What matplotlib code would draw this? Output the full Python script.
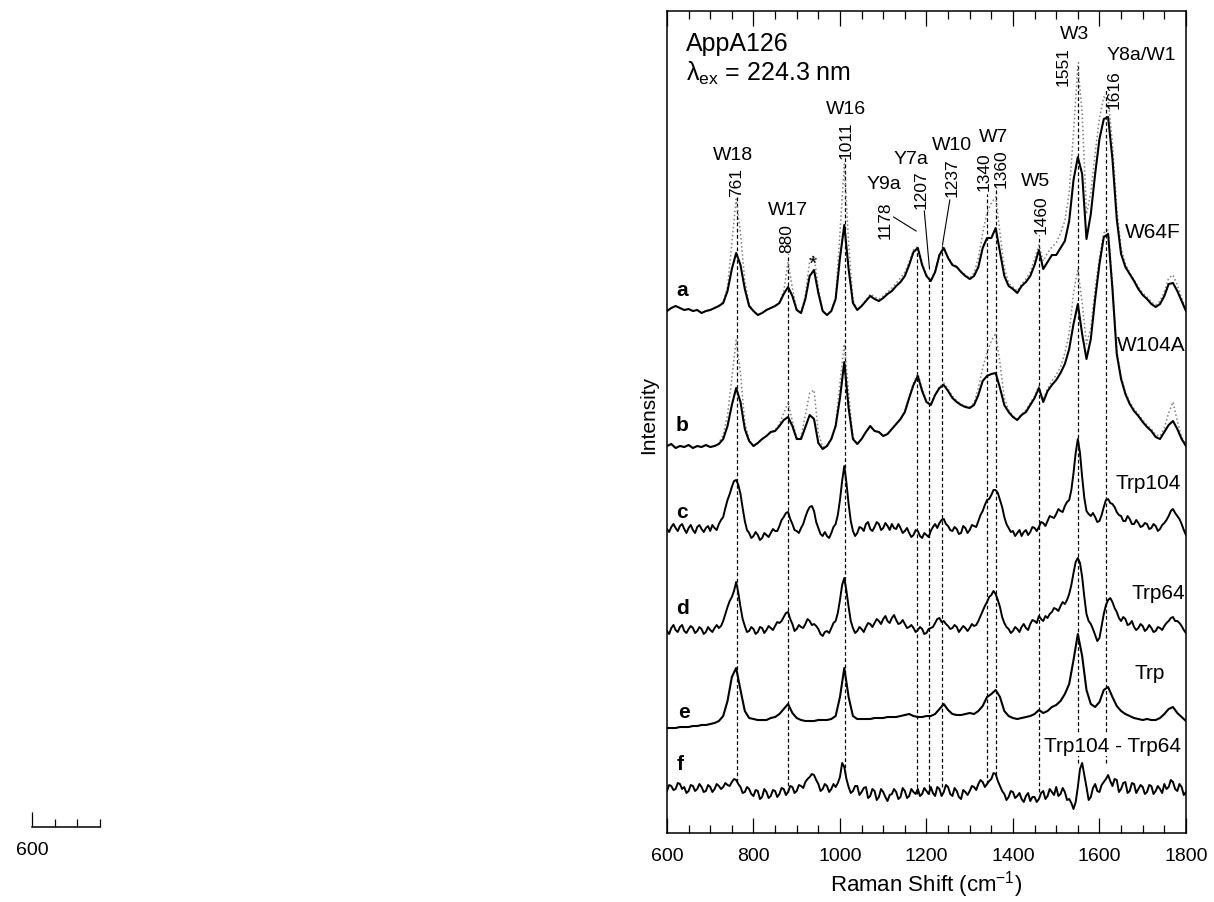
import numpy as np
import matplotlib.pyplot as plt
from matplotlib.ticker import MultipleLocator

plt.rcParams['font.family'] = ['Liberation Sans', 'DejaVu Sans']
plt.rcParams['mathtext.default'] = 'regular'

# Raman shift grid (cm^-1), one point every 10 cm^-1;
# the noisy single-site spectra also carry the in-between points
shift = np.arange(600, 1801, 10)
shift_mid = np.arange(605, 1800, 10)

# ---- spectra (arbitrary intensity units, already stacked) ----
w64f = [
    522, 525, 527, 525, 523, 524, 522, 523, 520, 522,
    523, 525, 527, 530, 542, 564, 580, 568, 544, 527,
    522, 518, 520, 523, 525, 527, 530, 539, 546, 537,
    523, 520, 534, 557, 563, 540, 522, 518, 522, 534,
    575, 608, 564, 530, 523, 527, 532, 537, 534, 532,
    535, 539, 542, 547, 551, 557, 568, 581, 585, 568,
    557, 552, 561, 578, 585, 575, 568, 566, 561, 557,
    554, 557, 566, 585, 595, 595, 605, 581, 557, 547,
    544, 540, 547, 551, 557, 568, 583, 564, 571, 578,
    578, 585, 592, 612, 653, 676, 659, 594, 619, 659,
    694, 714, 716, 674, 614, 579, 566, 559, 552, 544,
    538, 534, 529, 526, 529, 537, 549, 550, 542, 532,
    522,
]
w64f_wt = [
    522, 525, 527, 525, 523, 524, 522, 523, 520, 522,
    523, 525, 527, 531, 546, 590, 634, 600, 552, 528,
    522, 518, 520, 523, 525, 527, 531, 542, 571, 545,
    523, 520, 538, 572, 578, 545, 522, 518, 522, 536,
    600, 669, 590, 533, 523, 527, 533, 539, 536, 534,
    537, 541, 545, 550, 555, 561, 571, 583, 587, 570,
    558, 553, 562, 579, 586, 576, 569, 567, 562, 558,
    555, 560, 575, 600, 620, 630, 636, 600, 565, 550,
    546, 542, 549, 554, 561, 574, 588, 572, 580, 586,
    590, 600, 612, 640, 700, 767, 720, 619, 640, 680,
    715, 736, 734, 690, 625, 585, 569, 560, 553, 546,
    540, 536, 531, 528, 532, 541, 555, 558, 548, 535,
    524,
]
w104a = [
    387, 389, 385, 387, 386, 388, 385, 387, 386, 388,
    386, 387, 389, 394, 407, 428, 445, 431, 404, 392,
    387, 390, 394, 397, 401, 402, 407, 413, 416, 407,
    394, 394, 406, 418, 414, 390, 384, 387, 394, 407,
    435, 471, 425, 394, 389, 394, 401, 407, 402, 401,
    397, 399, 404, 409, 414, 421, 435, 448, 457, 442,
    431, 428, 438, 445, 448, 442, 435, 431, 428, 426,
    425, 428, 438, 452, 457, 459, 460, 445, 428, 421,
    416, 413, 418, 421, 428, 435, 445, 431, 442, 448,
    453, 460, 469, 484, 509, 529, 499, 474, 494, 534,
    569, 596, 599, 544, 479, 454, 439, 429, 422, 417,
    411, 406, 402, 396, 394, 401, 408, 412, 404, 394,
    387,
]
w104a_wt = [
    387, 389, 385, 387, 386, 388, 385, 387, 386, 388,
    386, 387, 390, 398, 418, 455, 493, 460, 410, 393,
    387, 390, 394, 397, 401, 403, 409, 420, 430, 412,
    395, 396, 418, 440, 443, 400, 386, 387, 394, 409,
    450, 489, 440, 396, 389, 394, 401, 407, 402, 401,
    397, 399, 404, 409, 414, 422, 437, 450, 459, 444,
    432, 429, 439, 446, 450, 444, 437, 432, 429, 427,
    426, 430, 445, 465, 480, 492, 500, 470, 435, 423,
    417, 414, 419, 423, 430, 437, 447, 433, 444, 452,
    458, 466, 480, 500, 540, 564, 530, 489, 505, 545,
    575, 600, 603, 550, 483, 456, 441, 431, 424, 419,
    413, 408, 404, 398, 397, 405, 420, 431, 412, 396,
    388,
]
trp104 = [
    304, 306, 305, 307, 304, 305, 303, 306, 304, 305,
    302, 305, 309, 316, 333, 346, 353, 339, 312, 300,
    297, 298, 295, 298, 300, 302, 307, 316, 321, 309,
    302, 305, 316, 326, 322, 305, 297, 297, 300, 309,
    333, 367, 329, 302, 300, 305, 309, 304, 306, 309,
    305, 307, 309, 304, 305, 302, 300, 298, 302, 295,
    298, 302, 309, 310, 314, 307, 302, 304, 300, 305,
    303, 307, 312, 322, 333, 338, 343, 333, 316, 305,
    302, 300, 297, 303, 301, 305, 306, 310, 312, 316,
    319, 322, 327, 333, 360, 394, 356, 322, 317, 316,
    312, 326, 334, 329, 321, 317, 312, 314, 309, 310,
    307, 309, 305, 307, 304, 310, 317, 324, 317, 309,
    298,
]
trp104_mid = [
    301, 309, 302, 309, 300, 308, 300, 308, 301, 307,
    308, 303, 313, 325, 339, 352, 348, 325, 303, 295,
    301, 293, 300, 296, 304, 302, 313, 320, 314, 303,
    300, 309, 322, 327, 311, 299, 301, 295, 306, 318,
    352, 350, 312, 297, 306, 302, 311, 302, 311, 303,
    310, 303, 305, 309, 300, 305, 296, 303, 297, 300,
    296, 306, 305, 313, 309, 303, 306, 299, 307, 300,
    308, 306, 318, 328, 334, 343, 340, 326, 309, 301,
    297, 303, 301, 298, 306, 302, 311, 307, 317, 315,
    324, 321, 331, 343, 380, 380, 335, 319, 320, 311,
    318, 333, 330, 326, 318, 312, 317, 309, 313, 306,
    310, 304, 309, 302, 308, 313, 322, 320, 314, 303,
]
trp64 = [
    202, 205, 203, 206, 202, 204, 205, 202, 204, 201,
    203, 205, 205, 212, 226, 236, 251, 226, 207, 202,
    204, 201, 205, 203, 205, 207, 210, 216, 221, 209,
    204, 206, 209, 212, 209, 204, 197, 202, 205, 212,
    233, 255, 226, 205, 202, 204, 206, 209, 210, 212,
    214, 212, 215, 213, 210, 209, 206, 205, 203, 204,
    200, 205, 210, 215, 212, 207, 205, 206, 204, 205,
    205, 207, 212, 222, 231, 238, 239, 226, 210, 204,
    202, 204, 206, 205, 209, 212, 217, 212, 215, 221,
    224, 227, 229, 239, 260, 275, 256, 219, 209, 198,
    195, 219, 233, 231, 221, 212, 214, 209, 206, 205,
    207, 204, 205, 202, 205, 207, 212, 216, 212, 207,
    200,
]
trp64_mid = [
    199, 208, 201, 208, 200, 207, 200, 206, 199, 206,
    201, 208, 207, 219, 232, 242, 240, 214, 201, 206,
    199, 206, 200, 207, 203, 211, 212, 220, 214, 202,
    208, 205, 214, 208, 207, 199, 201, 200, 210, 220,
    248, 242, 212, 200, 206, 201, 210, 206, 214, 209,
    217, 210, 218, 209, 213, 205, 208, 201, 206, 199,
    204, 206, 214, 211, 209, 204, 208, 201, 207, 202,
    209, 208, 217, 227, 236, 242, 233, 216, 206, 200,
    206, 201, 209, 203, 213, 210, 214, 217, 219, 225,
    222, 231, 233, 248, 271, 270, 236, 212, 204, 192,
    207, 228, 235, 225, 215, 216, 208, 212, 203, 209,
    202, 208, 201, 206, 203, 210, 215, 212, 210, 203,
]
trp = [
    105, 105, 105, 106, 106, 106, 107, 107, 108, 108,
    109, 110, 112, 117, 132, 156, 165, 143, 122, 115,
    114, 113, 113, 113, 115, 116, 119, 124, 129, 120,
    115, 113, 112, 112, 112, 113, 113, 113, 114, 117,
    136, 165, 136, 117, 114, 114, 114, 114, 115, 115,
    115, 116, 116, 116, 117, 118, 119, 117, 116, 116,
    117, 117, 119, 124, 129, 123, 119, 118, 118, 119,
    120, 119, 122, 127, 136, 139, 143, 136, 122, 117,
    115, 114, 115, 116, 117, 119, 123, 120, 122, 126,
    128, 132, 139, 149, 173, 199, 177, 143, 129, 126,
    131, 143, 146, 136, 127, 122, 119, 117, 115, 114,
    113, 114, 113, 113, 115, 119, 124, 126, 120, 116,
    112,
]
diff_104_64 = [
    42, 47, 44, 49, 46, 42, 47, 44, 46, 42,
    46, 44, 47, 46, 48, 51, 53, 46, 41, 44,
    37, 42, 36, 41, 37, 42, 39, 44, 41, 46,
    42, 47, 51, 56, 58, 49, 44, 47, 44, 46,
    56, 66, 46, 42, 47, 41, 46, 37, 42, 36,
    41, 32, 39, 41, 36, 42, 37, 41, 44, 39,
    42, 46, 37, 44, 41, 46, 37, 42, 34, 41,
    42, 46, 49, 51, 49, 54, 59, 47, 39, 36,
    41, 37, 34, 37, 32, 36, 34, 42, 37, 41,
    46, 39, 41, 34, 24, 46, 70, 46, 36, 49,
    41, 51, 58, 47, 53, 44, 51, 42, 49, 44,
    46, 41, 47, 42, 44, 49, 46, 51, 42, 46,
    41,
]
diff_104_64_mid = [
    48, 43, 50, 44, 40, 48, 42, 49, 41, 48,
    41, 49, 44, 50, 47, 54, 49, 40, 46, 39,
    43, 34, 44, 35, 43, 36, 45, 38, 47, 40,
    48, 45, 54, 59, 53, 42, 49, 41, 49, 50,
    70, 54, 40, 47, 38, 45, 35, 44, 33, 44,
    36, 38, 44, 34, 45, 35, 44, 39, 37, 45,
    39, 40, 46, 37, 48, 39, 45, 36, 43, 38,
    47, 43, 53, 46, 52, 60, 52, 42, 33, 42,
    35, 40, 31, 40, 36, 31, 40, 34, 44, 38,
    37, 45, 33, 30, 31, 64, 58, 33, 45, 42,
    48, 54, 52, 54, 41, 50, 40, 50, 40, 48,
    39, 48, 39, 47, 40, 44, 53, 44, 49, 38,
]

# ---- band assignments ----
band_pos = [761, 880, 1011, 1178, 1207, 1237, 1340, 1360, 1460, 1551, 1616]
band_top = [638, 579, 676, 583, 556, 588, 639, 644, 598, 771, 744]
band_bottom = [51, 41, 59, 39, 39, 46, 49, 58, 41, 70, 70]


def merge(on_grid, mid):
    """Interleave the 10 cm^-1 samples with the half-step samples."""
    x = np.empty(len(shift) + len(shift_mid))
    y = np.empty_like(x)
    x[0::2], x[1::2] = shift, shift_mid
    y[0::2], y[1::2] = on_grid, mid
    return x, y


fig = plt.figure(figsize=(12.14, 9.03), dpi=100)
ax = fig.add_axes([0.5494, 0.0764, 0.4275, 0.9103])

# wild-type overlays (dotted) under the mutant spectra
for ref in (w64f_wt, w104a_wt):
    ax.plot(shift, ref, color='#808080', lw=1.1, ls=':', zorder=2)

for spec in (w64f, w104a, trp):
    ax.plot(shift, spec, color='black', lw=1.5, zorder=3)
for spec, mid in ((trp104, trp104_mid), (trp64, trp64_mid),
                  (diff_104_64, diff_104_64_mid)):
    ax.plot(*merge(spec, mid), color='black', lw=1.4, zorder=3)

ax.vlines(band_pos, band_bottom, band_top, colors='black', lw=0.9,
          linestyles=(0, (3, 2)), zorder=1)

# band numbers, rotated above the dashed guides
num_labels = [
    ('761', 762, 652), ('880', 877, 595), ('1011', 1014, 694),
    ('1178', 1104, 614), ('1207', 1187, 644), ('1237', 1259, 656),
    ('1340', 1333, 662), ('1360', 1372, 665), ('1460', 1464, 619),
    ('1551', 1515, 768), ('1616', 1634, 744),
]
for txt, x, y in num_labels:
    ax.text(x, y, txt, rotation=90, ha='center', va='center', fontsize=12.5)

# leader lines for the crowded Tyr / W10 region
leaders = [((1124, 1176), (616, 602)), ((1195, 1207), (622, 564)),
           ((1254, 1237), (633, 588))]
for xs, ys in leaders:
    ax.plot(xs, ys, color='black', lw=0.8, zorder=1)

mode_labels = [
    ('W18', 753, 679), ('W17', 880, 624), ('W16', 1014, 725),
    ('Y9a', 1101, 650), ('Y7a', 1164, 675), ('W10', 1259, 689),
    ('W7', 1354, 697), ('W5', 1452, 653), ('W3', 1543, 800),
    ('Y8a/W1', 1696, 779),
]
for txt, x, y in mode_labels:
    ax.text(x, y, txt, ha='center', va='center', fontsize=14)
ax.text(936, 570, '*', ha='center', va='center', fontsize=15)

sample_labels = [
    ('W64F', 1724, 602), ('W104A', 1720, 489), ('Trp104', 1712, 351),
    ('Trp64', 1735, 241), ('Trp', 1717, 161),
]
for txt, x, y in sample_labels:
    ax.text(x, y, txt, ha='center', va='center', fontsize=15)
ax.text(1629, 88, 'Trp104 - Trp64', ha='center', va='center', fontsize=15,
        bbox=dict(facecolor='white', edgecolor='none', pad=1), zorder=4)

for letter, x, y in [('a', 635, 544), ('b', 635, 409), ('c', 635, 322),
                     ('d', 635, 226), ('e', 639, 122), ('f', 631, 70)]:
    ax.text(x, y, letter, ha='center', va='center', fontsize=15,
            fontweight='bold')

ax.text(643, 790, 'AppA126', ha='left', va='center', fontsize=18)
ax.text(643, 761, 'λ$_{ex}$ = 224.3 nm', ha='left', va='center',
        fontsize=18)

ax.set_xlim(600, 1800)
ax.set_ylim(0, 822)
ax.set_yticks([])
ax.xaxis.set_major_locator(MultipleLocator(200))
ax.xaxis.set_minor_locator(MultipleLocator(50))
ax.tick_params(axis='x', which='both', direction='in', top=True,
               labelsize=14, width=0.9, pad=10)
ax.tick_params(axis='x', which='major', length=11)
ax.tick_params(axis='x', which='minor', length=6)
for sp in ax.spines.values():
    sp.set_linewidth(1.1)
ax.set_xlabel('Raman Shift (cm$^{-1}$)', fontsize=16, labelpad=3)
ax.set_ylabel('Intensity', fontsize=15)
ax.yaxis.set_label_coords(-0.018, 0.51)

# stray fragment of the shift axis at lower left
ax2 = fig.add_axes([32 / 1214, 1 - 828 / 903, 68 / 1214, 0.01])
ax2.set_xlim(600, 750)
ax2.set_yticks([])
for side in ('top', 'left', 'right'):
    ax2.spines[side].set_visible(False)
ax2.spines['bottom'].set_linewidth(1.1)
ax2.xaxis.set_major_locator(MultipleLocator(200))
ax2.xaxis.set_minor_locator(MultipleLocator(50))
ax2.tick_params(axis='x', which='both', direction='in', labelsize=14,
                width=0.9, pad=10)
ax2.tick_params(axis='x', which='major', length=11)
ax2.tick_params(axis='x', which='minor', length=6)
ax2.patch.set_visible(False)

fig.savefig('out.png', dpi=100)
